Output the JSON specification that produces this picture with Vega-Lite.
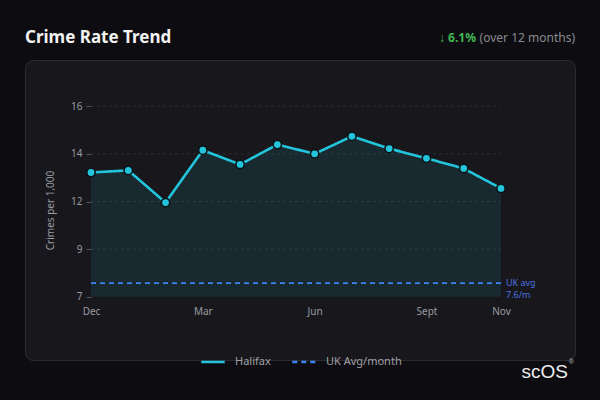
{
  "$schema": "https://vega.github.io/schema/vega-lite/v6.json",
  "description": "Crime rate trend for Halifax against the UK monthly average.",
  "width": 550,
  "height": 300,
  "autosize": "none",
  "padding": {"left": 25, "top": 60, "right": 25, "bottom": 40},
  "background": "#0d0d11",
  "datasets": {
    "halifax": [
      {"i": 0, "month": "Dec", "rate": 12.87, "series": "Halifax"},
      {"i": 1, "month": "Jan", "rate": 12.97, "series": "Halifax"},
      {"i": 2, "month": "Feb", "rate": 11.45, "series": "Halifax"},
      {"i": 3, "month": "Mar", "rate": 13.92, "series": "Halifax"},
      {"i": 4, "month": "Apr", "rate": 13.25, "series": "Halifax"},
      {"i": 5, "month": "May", "rate": 14.19, "series": "Halifax"},
      {"i": 6, "month": "Jun", "rate": 13.75, "series": "Halifax"},
      {"i": 7, "month": "Jul", "rate": 14.58, "series": "Halifax"},
      {"i": 8, "month": "Aug", "rate": 14.0, "series": "Halifax"},
      {"i": 9, "month": "Sept", "rate": 13.54, "series": "Halifax"},
      {"i": 10, "month": "Oct", "rate": 13.06, "series": "Halifax"},
      {"i": 11, "month": "Nov", "rate": 12.12, "series": "Halifax"}
    ],
    "ukavg": [
      {"series": "UK Avg/month", "rate": 7.65, "label": ["UK avg", "7.6/m"]}
    ],
    "grid": [
      {"tick": 16}, {"tick": 13.75}, {"tick": 11.5}, {"tick": 9.25}
    ]
  },
  "layer": [
    {
      "data": {"name": "grid"},
      "mark": {"type": "rule", "color": "#2c2c32", "strokeDash": [3, 3], "strokeWidth": 1},
      "encoding": {
        "x": {
          "datum": 0,
          "type": "quantitative",
          "scale": {"domain": [-1.771, 12.986], "nice": false, "zero": false},
          "axis": {
            "values": [0, 3, 6, 9, 11],
            "labelExpr": "['Dec','Jan','Feb','Mar','Apr','May','Jun','Jul','Aug','Sept','Oct','Nov'][datum.value]",
            "title": null,
            "offset": -63,
            "domain": false,
            "ticks": false,
            "labelPadding": 9
          }
        },
        "x2": {"datum": 11},
        "y": {
          "field": "tick",
          "type": "quantitative",
          "scale": {"domain": [4.02, 18.18], "nice": false, "zero": false},
          "axis": {
            "values": [7, 9.25, 11.5, 13.75, 16],
            "format": ".0f",
            "title": "Crimes per 1,000",
            "offset": -66,
            "domain": false,
            "ticks": true,
            "tickSize": 5,
            "tickColor": "#55555c",
            "labelPadding": 4,
            "titlePadding": 15
          }
        }
      }
    },
    {
      "data": {"name": "halifax"},
      "mark": {"type": "area", "color": "#22c5dc", "opacity": 0.1},
      "encoding": {
        "x": {"field": "i", "type": "quantitative"},
        "y": {"field": "rate", "type": "quantitative"},
        "y2": {"datum": 7}
      }
    },
    {
      "data": {"name": "ukavg"},
      "mark": {"type": "rule", "strokeWidth": 1.6},
      "encoding": {
        "x": {"datum": 0, "type": "quantitative"},
        "x2": {"datum": 11},
        "y": {"field": "rate", "type": "quantitative"},
        "color": {"field": "series", "type": "nominal"},
        "strokeDash": {"field": "series", "type": "nominal"}
      }
    },
    {
      "data": {"name": "ukavg"},
      "mark": {"type": "text", "align": "left", "baseline": "middle", "dx": 5, "fontSize": 9, "color": "#4d6fe0", "lineHeight": 12},
      "encoding": {
        "x": {"datum": 11, "type": "quantitative"},
        "y": {"field": "rate", "type": "quantitative"},
        "text": {"field": "label"}
      }
    },
    {
      "data": {"name": "halifax"},
      "mark": {"type": "line", "strokeWidth": 2.6},
      "encoding": {
        "x": {"field": "i", "type": "quantitative"},
        "y": {"field": "rate", "type": "quantitative"},
        "color": {
          "field": "series",
          "type": "nominal",
          "scale": {"domain": ["Halifax", "UK Avg/month"], "range": ["#22c5dc", "#3b82f6"]},
          "legend": {"title": null, "orient": "none", "legendX": 175, "legendY": 289}
        },
        "strokeDash": {
          "field": "series",
          "type": "nominal",
          "scale": {"domain": ["Halifax", "UK Avg/month"], "range": [[1, 0], [5, 4]]},
          "legend": {"title": null, "orient": "none", "legendX": 175, "legendY": 289}
        }
      }
    },
    {
      "data": {"name": "halifax"},
      "mark": {"type": "point", "filled": true, "size": 70, "fill": "#22c5dc", "stroke": "#0b1418", "strokeWidth": 1.6, "opacity": 1},
      "encoding": {
        "x": {"field": "i", "type": "quantitative"},
        "y": {"field": "rate", "type": "quantitative"}
      }
    },
    {
      "data": {"values": [{}]},
      "mark": {"type": "text", "text": "Crime Rate Trend", "align": "left", "baseline": "middle", "fontSize": 17, "fontWeight": "bold", "color": "#f2f2f2", "dy": -22},
      "encoding": {"x": {"value": 0}, "y": {"value": 0}}
    },
    {
      "data": {"values": [{}]},
      "mark": {"type": "text", "text": "(over 12 months)", "align": "right", "baseline": "middle", "fontSize": 12, "color": "#8a8a90", "dy": -22},
      "encoding": {"x": {"value": "width"}, "y": {"value": 0}}
    },
    {
      "data": {"values": [{}]},
      "mark": {"type": "text", "text": "↓ 6.1%", "align": "right", "baseline": "middle", "fontSize": 12, "fontWeight": "bold", "color": "#3fb950", "dx": -99, "dy": -22},
      "encoding": {"x": {"value": "width"}, "y": {"value": 0}}
    },
    {
      "data": {"values": [{}]},
      "mark": {"type": "text", "text": "scOS", "font": "Liberation Sans", "align": "right", "baseline": "middle", "fontSize": 19, "color": "#eeeeee", "dx": -7, "dy": 12},
      "encoding": {"x": {"value": "width"}, "y": {"value": "height"}}
    },
    {
      "data": {"values": [{}]},
      "mark": {"type": "text", "text": "®", "font": "Liberation Sans", "align": "right", "baseline": "middle", "fontSize": 7, "color": "#bbbbbb", "dx": -1, "dy": 2},
      "encoding": {"x": {"value": "width"}, "y": {"value": "height"}}
    }
  ],
  "config": {
    "font": "Noto Sans",
    "view": {"fill": "#18181c", "stroke": "#2c2c31", "strokeWidth": 1, "cornerRadius": 8},
    "axis": {
      "grid": false,
      "labelColor": "#9a9aa0",
      "labelFontSize": 10,
      "titleColor": "#9a9aa0",
      "titleFontSize": 10,
      "titleFontWeight": "normal"
    },
    "legend": {
      "direction": "horizontal",
      "symbolType": "stroke",
      "symbolSize": 550,
      "symbolStrokeWidth": 2.5,
      "labelColor": "#a0a0a6",
      "labelFontSize": 11,
      "labelOffset": 9,
      "columnPadding": 16
    }
  }
}
